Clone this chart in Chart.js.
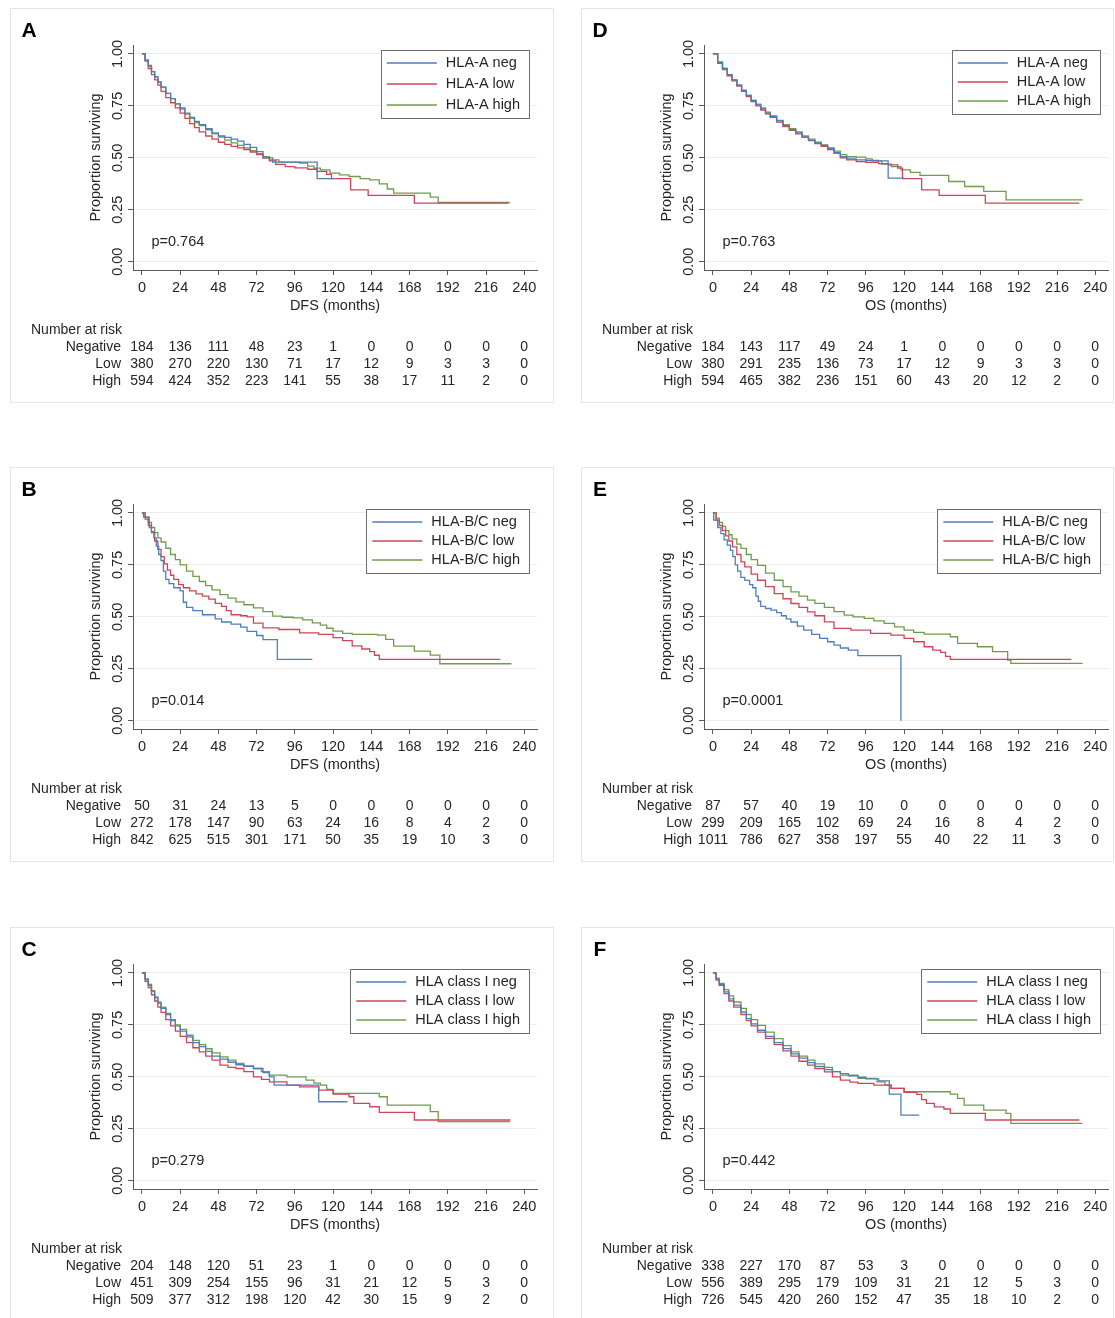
<!DOCTYPE html>
<html>
<head>
<meta charset="utf-8">
<script src="https://cdn.jsdelivr.net/npm/chart.js@4.4.0/dist/chart.umd.min.js"></script>
<style>
  body { margin:0; background:#fff; width:1115px; height:1318px; overflow:hidden; position:relative; }
  canvas { position:absolute; }
</style>
</head>
<body>
<script>
// ---- axes ----
const months = [0,24,48,72,96,120,144,168,192,216,240];
const yTicks = [0,0.25,0.5,0.75,1];
const riskRows = ['Negative','Low','High'];

// ---- A: DFS, HLA-A ----
const aNeg  = [[0,1],[2,.97],[4,.945],[6,.915],[8,.89],[10,.865],[12,.84],[15,.81],[18,.785],[21,.76],[24,.74],[27,.715],[30,.695],[33,.675],[36,.66],[40,.64],[44,.62],[48,.605],[52,.598],[56,.59],[60,.58],[64,.565],[68,.55],[72,.53],[76,.50],[82,.479],[110,.40],[120,.40]];
const aLow  = [[0,1],[2,.965],[4,.93],[6,.90],[8,.875],[10,.85],[12,.82],[15,.79],[18,.765],[21,.74],[24,.715],[27,.69],[30,.665],[33,.645],[36,.625],[40,.605],[44,.59],[48,.575],[52,.565],[56,.555],[60,.548],[64,.54],[68,.528],[72,.515],[76,.50],[80,.485],[84,.468],[90,.458],[96,.452],[104,.445],[110,.435],[116,.42],[119,.40],[131,.346],[142,.319],[171,.282],[230,.282]];
const aHigh = [[0,1],[2,.97],[4,.94],[6,.915],[8,.89],[10,.865],[12,.84],[15,.81],[18,.785],[21,.76],[24,.735],[27,.71],[30,.69],[33,.67],[36,.655],[40,.635],[44,.615],[48,.60],[52,.585],[56,.572],[60,.56],[64,.548],[68,.535],[72,.52],[76,.505],[80,.49],[86,.479],[99,.474],[104,.46],[108,.45],[112,.442],[118,.426],[124,.418],[130,.41],[137,.40],[143,.394],[149,.375],[154,.35],[158,.33],[181,.311],[186,.285],[231,.285]];
const riskA = [[184,136,111,48,23,1,0,0,0,0,0],[380,270,220,130,71,17,12,9,3,3,0],[594,424,352,223,141,55,38,17,11,2,0]];

// ---- B: DFS, HLA-B/C ----
const bNeg  = [[0,1],[1,.98],[4.6,.93],[6,.91],[7.5,.88],[9,.84],[10.5,.80],[12,.77],[13.5,.72],[15,.68],[17,.66],[20,.64],[24,.625],[26,.57],[28,.545],[32,.53],[38,.51],[46,.49],[50,.475],[56,.465],[62,.45],[66,.43],[72,.41],[76,.39],[85,.295],[107,.295]];
const bLow  = [[0,1],[2,.97],[4,.94],[6,.905],[8,.865],[10,.825],[12,.79],[14,.755],[16,.725],[18,.70],[20,.68],[23,.655],[26,.64],[30,.625],[34,.61],[38,.60],[42,.585],[46,.565],[50,.55],[53,.53],[56,.51],[62,.505],[66,.50],[70,.47],[76,.447],[86,.439],[99,.423],[111,.415],[120,.40],[126,.385],[132,.36],[138,.345],[143,.332],[146,.315],[149,.295],[225,.295]];
const bHigh = [[0,1],[2,.98],[4,.955],[6,.93],[8,.905],[10,.88],[12,.86],[15,.83],[18,.80],[21,.775],[24,.75],[28,.72],[32,.695],[36,.67],[40,.65],[44,.63],[49,.607],[54,.59],[59,.572],[64,.558],[70,.543],[76,.525],[82,.503],[88,.498],[95,.495],[101,.485],[107,.471],[112,.46],[116,.445],[120,.431],[126,.42],[132,.415],[148,.412],[153,.391],[158,.359],[171,.335],[181,.316],[187,.274],[232,.274]];
const riskB = [[50,31,24,13,5,0,0,0,0,0,0],[272,178,147,90,63,24,16,8,4,2,0],[842,625,515,301,171,50,35,19,10,3,0]];

// ---- C: DFS, HLA class I ----
const cNeg  = [[0,1],[2,.97],[4,.94],[6,.91],[8,.88],[10,.855],[12,.83],[15,.80],[18,.77],[21,.745],[24,.72],[28,.692],[32,.665],[36,.645],[40,.622],[44,.60],[49,.585],[54,.57],[59,.558],[64,.55],[70,.54],[76,.52],[80,.50],[83,.46],[111,.38],[129,.38]];
const cLow  = [[0,1],[2,.96],[4,.93],[6,.895],[8,.865],[10,.835],[12,.81],[15,.775],[18,.745],[21,.72],[24,.695],[28,.665],[32,.64],[36,.62],[40,.60],[44,.58],[49,.556],[54,.545],[59,.54],[64,.525],[70,.50],[75,.488],[80,.476],[91,.46],[99,.452],[111,.436],[120,.417],[130,.404],[133,.372],[143,.356],[149,.329],[171,.292],[231,.29]];
const cHigh = [[0,1],[2,.97],[4,.945],[6,.915],[8,.885],[10,.86],[12,.835],[15,.805],[18,.775],[21,.75],[24,.728],[28,.70],[32,.675],[36,.655],[40,.635],[44,.615],[49,.596],[54,.58],[59,.564],[64,.552],[70,.54],[75,.525],[80,.508],[91,.50],[103,.484],[108,.47],[112,.46],[116,.44],[120,.42],[149,.404],[154,.364],[181,.332],[186,.284],[231,.284]];
const riskC = [[204,148,120,51,23,1,0,0,0,0,0],[451,309,254,155,96,31,21,12,5,3,0],[509,377,312,198,120,42,30,15,9,2,0]];

// ---- D: OS, HLA-A ----
const dNeg  = [[0,1],[3,.96],[6,.93],[9,.90],[12,.875],[15,.85],[18,.825],[21,.80],[24,.775],[27,.755],[30,.735],[33,.715],[36,.70],[40,.678],[44,.655],[48,.635],[52,.62],[56,.60],[60,.585],[64,.57],[68,.56],[72,.545],[76,.525],[80,.505],[84,.495],[90,.49],[96,.487],[104,.485],[110,.402],[120,.402]];
const dLow  = [[0,1],[3,.955],[6,.925],[9,.895],[12,.87],[15,.845],[18,.82],[21,.795],[24,.77],[27,.75],[30,.73],[33,.712],[36,.695],[40,.672],[44,.65],[48,.632],[52,.615],[56,.598],[60,.583],[64,.568],[68,.555],[72,.54],[76,.522],[80,.50],[84,.49],[90,.482],[96,.478],[104,.472],[110,.466],[116,.45],[119,.40],[131,.346],[142,.319],[171,.282],[230,.282]];
const dHigh = [[0,1],[3,.96],[6,.93],[9,.90],[12,.875],[15,.85],[18,.825],[21,.80],[24,.778],[27,.758],[30,.74],[33,.72],[36,.70],[40,.68],[44,.66],[48,.64],[52,.625],[56,.605],[60,.59],[64,.575],[68,.562],[72,.548],[76,.532],[80,.515],[84,.505],[90,.503],[96,.495],[100,.485],[106,.47],[112,.458],[118,.442],[124,.43],[130,.415],[148,.386],[158,.362],[170,.338],[184,.298],[232,.298]];
const riskD = [[184,143,117,49,24,1,0,0,0,0,0],[380,291,235,136,73,17,12,9,3,3,0],[594,465,382,236,151,60,43,20,12,2,0]];

// ---- E: OS, HLA-B/C ----
const eNeg  = [[0,1],[0.5,.965],[3,.93],[5,.90],[7,.87],[9,.845],[11,.82],[12.5,.79],[14,.75],[15.5,.72],[17.5,.69],[20,.675],[23,.655],[25,.64],[27,.60],[28.5,.575],[30,.55],[33,.54],[36.5,.532],[40,.52],[43,.505],[46,.49],[49,.475],[53,.455],[57,.436],[62,.415],[67,.396],[72,.38],[76,.364],[80,.35],[85,.34],[91,.313],[118,0]];
const eLow  = [[0,1],[2,.965],[4,.94],[6,.915],[8,.89],[10,.865],[12.3,.837],[15,.80],[17.6,.764],[20,.74],[24,.705],[28,.676],[33,.645],[38.5,.612],[44,.587],[49,.564],[54,.545],[59.4,.524],[64,.505],[70,.476],[76,.444],[86.6,.436],[99,.42],[111.7,.412],[120,.396],[126,.38],[132.6,.356],[138,.34],[143,.329],[146,.31],[149,.295],[225,.295]];
const eHigh = [[0,1],[2,.975],[4,.955],[6,.935],[8,.915],[10,.895],[12,.875],[15,.85],[17.6,.829],[21,.80],[24,.775],[28,.748],[33,.71],[38.5,.676],[44,.645],[49,.62],[54,.60],[59.4,.58],[64,.565],[70,.545],[76,.525],[82.4,.508],[88,.50],[95,.492],[101,.48],[107.5,.468],[114,.452],[120,.436],[126,.425],[132.6,.417],[149,.404],[153.6,.372],[166,.356],[175.5,.332],[185,.292],[187,.276],[232,.276]];
const riskE = [[87,57,40,19,10,0,0,0,0,0,0],[299,209,165,102,69,24,16,8,4,2,0],[1011,786,627,358,197,55,40,22,11,3,0]];

// ---- F: OS, HLA class I ----
const fNeg  = [[0,1],[2,.97],[4,.945],[7,.909],[10,.875],[13,.845],[17.6,.812],[21,.78],[24,.755],[28,.724],[33,.695],[38.5,.665],[44,.636],[49,.61],[54,.59],[59.4,.568],[64,.55],[70,.535],[75,.525],[80,.515],[85,.505],[91,.498],[96,.49],[104,.48],[110.7,.417],[118,.316],[129.5,.316]];
const fLow  = [[0,1],[2,.965],[4,.94],[7,.90],[10,.865],[13,.835],[17.6,.80],[21,.77],[24,.745],[28,.715],[33,.685],[38.5,.655],[44,.625],[49,.60],[54,.575],[59.4,.556],[64,.54],[70,.524],[75,.50],[80,.484],[86,.474],[91,.468],[101,.46],[111.7,.444],[120,.425],[128,.415],[131,.39],[134,.372],[139,.355],[145,.345],[149,.324],[171,.292],[230,.292]];
const fHigh = [[0,1],[2,.975],[4,.95],[7,.92],[10,.89],[13,.86],[17.6,.829],[21,.80],[24,.775],[28,.748],[33,.715],[38.5,.684],[44,.65],[49,.62],[54,.60],[59.4,.58],[64,.562],[70,.545],[75,.525],[80,.508],[91,.492],[103,.476],[108,.46],[112,.444],[120,.428],[149,.417],[153.6,.396],[157.7,.364],[170,.34],[184,.324],[187,.276],[232,.276]];
const riskF = [[338,227,170,87,53,3,0,0,0,0,0],[556,389,295,179,109,31,21,12,5,3,0],[726,545,420,260,152,47,35,18,10,2,0]];

// ---- look ----
const FAMILY = '"Liberation Sans", Arial, Helvetica, sans-serif';
const TXT = '#262626';
const AXIS = '#5a5a5a';
const lineColors = ['#4f7fb8', '#cf4557', '#6f9d4b'];
Chart.defaults.font.family = FAMILY;
Chart.defaults.font.size = 14.5;
Chart.defaults.color = TXT;

const PH = 395;          // panel height
const AREA_R = 527;      // plot region right edge inside panel

const panels = [
  { id:'A', left:10,  top:8,   w:544, x:'DFS (months)', p:'p=0.764', gap:21, curves:[aNeg,aLow,aHigh], risk:riskA, names:['HLA-A neg','HLA-A low','HLA-A high'] },
  { id:'B', left:10,  top:467, w:544, x:'DFS (months)', p:'p=0.014', gap:19, curves:[bNeg,bLow,bHigh], risk:riskB, names:['HLA-B/C neg','HLA-B/C low','HLA-B/C high'] },
  { id:'C', left:10,  top:927, w:544, x:'DFS (months)', p:'p=0.279', gap:19, curves:[cNeg,cLow,cHigh], risk:riskC, names:['HLA class I neg','HLA class I low','HLA class I high'] },
  { id:'D', left:581, top:8,   w:533, x:'OS (months)',  p:'p=0.763', gap:19, curves:[dNeg,dLow,dHigh], risk:riskD, names:['HLA-A neg','HLA-A low','HLA-A high'] },
  { id:'E', left:581, top:467, w:533, x:'OS (months)',  p:'p=0.0001',gap:19, curves:[eNeg,eLow,eHigh], risk:riskE, names:['HLA-B/C neg','HLA-B/C low','HLA-B/C high'] },
  { id:'F', left:581, top:927, w:533, x:'OS (months)',  p:'p=0.442', gap:19, curves:[fNeg,fLow,fHigh], risk:riskF, names:['HLA class I neg','HLA class I low','HLA class I high'] }
];
const byCanvas = {};

// frame, letter, rotated y labels, legend box, p value, number-at-risk table
const kmExtras = {
  id: 'kmExtras',
  afterDraw(chart) {
    const p = byCanvas[chart.canvas.id];
    if (!p) return;
    const ctx = chart.ctx, xs = chart.scales.x, ys = chart.scales.y;
    const font = (s, b) => `${b ? 'bold ' : ''}${s}px ${FAMILY}`;
    ctx.save();

    // panel frame
    ctx.strokeStyle = '#e6e6e6'; ctx.lineWidth = 1;
    ctx.strokeRect(0.5, 0.5, chart.width - 1, chart.height - 1);

    // panel letter
    ctx.fillStyle = '#000'; ctx.font = font(21, true);
    ctx.textAlign = 'center'; ctx.textBaseline = 'middle';
    ctx.fillText(p.id, 19, 23);

    // y tick labels, rotated like Stata
    ctx.fillStyle = TXT; ctx.font = font(14.5);
    yTicks.forEach(v => {
      ctx.save();
      ctx.translate(108, ys.getPixelForValue(v));
      ctx.rotate(-Math.PI / 2);
      ctx.fillText(v.toFixed(2), 0, 0);
      ctx.restore();
    });

    // p value
    ctx.textAlign = 'left';
    ctx.fillText(p.p, xs.getPixelForValue(6), ys.getPixelForValue(0.097));

    // legend box
    const tw = Math.max(...p.names.map(n => ctx.measureText(n).width));
    const bw = 74 + tw, bh = 2 * p.gap + 26;
    const bx = 519 - bw, by = 42;
    ctx.fillStyle = '#fff'; ctx.fillRect(bx, by, bw, bh);
    ctx.strokeStyle = '#6e6e6e'; ctx.strokeRect(Math.round(bx) + 0.5, by + 0.5, Math.round(bw), bh);
    p.names.forEach((n, i) => {
      const y = by + 13 + i * p.gap;
      ctx.strokeStyle = lineColors[i]; ctx.lineWidth = 1.3;
      ctx.beginPath(); ctx.moveTo(bx + 6, y); ctx.lineTo(bx + 56, y); ctx.stroke();
      ctx.fillStyle = TXT; ctx.fillText(n, bx + 65, y);
    });

    // number at risk
    ctx.fillStyle = TXT; ctx.font = font(14);
    ctx.textAlign = 'left';
    ctx.fillText('Number at risk', 21, 322);
    p.risk.forEach((row, r) => {
      const y = 339 + r * 17;
      ctx.textAlign = 'right';
      ctx.fillText(riskRows[r], 111, y);
      ctx.textAlign = 'center';
      row.forEach((n, k) => ctx.fillText(String(n), xs.getPixelForValue(months[k]), y));
    });
    ctx.restore();
  }
};

panels.forEach(p => {
  const cv = document.createElement('canvas');
  cv.id = 'c' + p.id;
  cv.width = p.w; cv.height = PH;
  cv.style.left = p.left + 'px'; cv.style.top = p.top + 'px';
  document.body.appendChild(cv);
  byCanvas[cv.id] = p;

  new Chart(cv, {
    type: 'line',
    data: {
      datasets: p.curves.map((c, i) => ({
        label: p.names[i],
        data: c.map(([x, y]) => ({ x, y })),
        borderColor: lineColors[i], borderWidth: 1.3,
        stepped: true, pointRadius: 0, fill: false, tension: 0
      }))
    },
    options: {
      responsive: false, animation: false, devicePixelRatio: 1,
      layout: { padding: { left: 0, top: 37, right: p.w - AREA_R, bottom: 88 } },
      plugins: { legend: { display: false }, tooltip: { enabled: false } },
      scales: {
        x: {
          type: 'linear', min: -5.6, max: 248,
          afterBuildTicks: s => { s.ticks = months.map(v => ({ value: v })); },
          afterFit: s => { s.height = 45; },
          ticks: { padding: 4, maxRotation: 0, autoSkip: false, color: TXT },
          grid: { drawOnChartArea: false, tickLength: 5, tickColor: AXIS },
          border: { color: AXIS },
          title: { display: true, text: p.x, color: TXT, padding: { top: 0, bottom: 0 } }
        },
        y: {
          type: 'linear', min: -0.04, max: 1.043,
          afterBuildTicks: s => { s.ticks = yTicks.map(v => ({ value: v })); },
          afterFit: s => { s.width = 123; },
          ticks: { display: false },
          grid: { color: '#ededed', tickLength: 5, tickColor: AXIS },
          border: { color: AXIS },
          title: { display: true, text: 'Proportion surviving', color: TXT, padding: { top: 77, bottom: 0 } }
        }
      }
    },
    plugins: [kmExtras]
  });
});
</script>
</body>
</html>
